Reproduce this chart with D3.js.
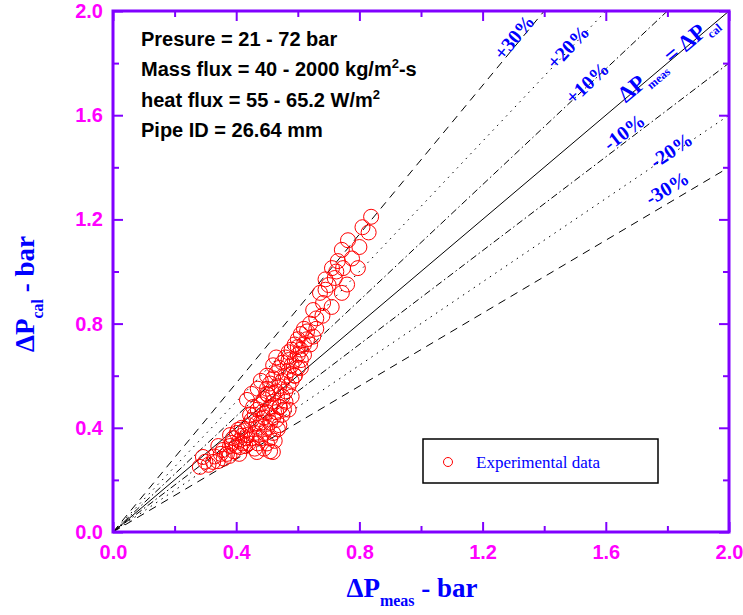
<!DOCTYPE html>
<html>
<head>
<meta charset="utf-8">
<script src="https://cdn.jsdelivr.net/npm/d3@7"></script>
<style>
  body { margin: 0; background: #fff; }
  svg { display: block; }
</style>
</head>
<body>
<div id="chart"></div>
<script>
var expData = [
  [0.282,0.250],[0.292,0.288],[0.300,0.270],[0.310,0.258],[0.325,0.269],[0.330,0.290],
  [0.340,0.272],[0.350,0.300],[0.342,0.330],[0.360,0.282],[0.357,0.315],[0.370,0.300],
  [0.378,0.292],[0.380,0.330],[0.386,0.342],[0.392,0.310],[0.390,0.360],[0.400,0.330],
  [0.402,0.380],[0.410,0.300],[0.420,0.340],[0.418,0.400],[0.430,0.360],[0.380,0.372],
  [0.500,0.530],[0.490,0.510],[0.520,0.500],[0.480,0.490],[0.510,0.480],[0.540,0.480],
  [0.470,0.470],[0.500,0.460],[0.530,0.460],[0.460,0.450],[0.490,0.440],[0.520,0.440],
  [0.450,0.430],[0.480,0.420],[0.510,0.420],[0.440,0.410],[0.470,0.400],[0.500,0.400],
  [0.540,0.410],[0.430,0.390],[0.460,0.380],[0.490,0.380],[0.520,0.380],[0.420,0.370],
  [0.450,0.360],[0.480,0.360],[0.510,0.360],[0.440,0.340],[0.470,0.340],[0.500,0.340],
  [0.460,0.320],[0.490,0.320],[0.510,0.310],[0.430,0.330],[0.410,0.350],[0.530,0.430],
  [0.550,0.450],[0.560,0.500],[0.580,0.520],[0.570,0.470],[0.485,0.461],[0.503,0.526],
  [0.542,0.480],[0.406,0.392],[0.455,0.480],[0.445,0.449],[0.467,0.418],[0.435,0.372],
  [0.412,0.326],[0.467,0.307],[0.519,0.307],[0.555,0.470],[0.535,0.395],[0.525,0.350],
  [0.435,0.507],[0.450,0.530],[0.470,0.550],[0.480,0.580],[0.500,0.600],[0.520,0.640],
  [0.530,0.670],[0.580,0.580],[0.590,0.600],[0.610,0.630],
  [0.620,0.780],[0.610,0.760],[0.630,0.740],[0.600,0.740],[0.620,0.720],[0.590,0.720],
  [0.610,0.700],[0.580,0.700],[0.600,0.680],[0.570,0.690],[0.590,0.660],[0.560,0.670],
  [0.580,0.640],[0.550,0.650],[0.570,0.620],[0.600,0.630],[0.540,0.630],[0.560,0.600],
  [0.590,0.600],[0.530,0.610],[0.550,0.580],[0.520,0.590],[0.540,0.560],[0.570,0.560],
  [0.510,0.570],[0.530,0.540],[0.560,0.540],[0.500,0.550],[0.520,0.530],[0.550,0.520],
  [0.610,0.660],[0.620,0.680],[0.640,0.720],[0.570,0.660],[0.600,0.710],
  [0.838,1.210],[0.810,1.170],[0.830,1.150],[0.763,1.120],[0.743,1.083],[0.800,1.094],
  [0.776,1.050],[0.795,1.013],[0.747,1.013],[0.711,1.013],[0.720,0.975],[0.700,0.948],
  [0.672,0.918],[0.743,0.918],[0.682,0.879],[0.710,0.864],[0.650,0.852],[0.760,0.950],
  [0.730,1.040],[0.690,0.970],[0.660,0.820],[0.680,0.830],[0.640,0.800],[0.660,0.780],
  [0.630,0.770],[0.650,0.750],[0.690,0.930],[0.725,1.000]
];

// deviation lines: calculated = factor * measured
var lineNames   = ['+30%', '+20%', '+10%', 'ref', '-10%', '-20%', '-30%'];
var lineFactors = [1 / 0.7, 1 / 0.8, 1 / 0.9, 1, 0.9, 0.8, 0.7];
var lineDash    = ['8,6', '1.5,5', '7,3,1.5,3', null, '7,3,1.5,3', '1.5,5', '8,6'];
// label anchors in data units
var labelAt     = [[1.302,1.900],[1.477,1.862],[1.539,1.724],[1.799,1.820],[1.659,1.536],[1.812,1.466],[1.799,1.321]];

var majorTicks = [0, 0.4, 0.8, 1.2, 1.6, 2.0];
var minorTicks = [0.2, 0.6, 1.0, 1.4, 1.8];

var infoLines = [
  [['Presure = 21 - 72 bar', 0]],
  [['Mass flux = 40 - 2000 kg/m', 0], ['2', 1], ['-s', 0]],
  [['heat flux = 55 - 65.2 W/m', 0], ['2', 1]],
  [['Pipe ID = 26.64 mm', 0]]
];

var W = 743, H = 615;
var axisColor = '#8000ff';
var sans = '"Liberation Sans", Arial, sans-serif';
var serif = '"Liberation Serif", "Times New Roman", serif';

var svg = d3.select('#chart').append('svg').attr('width', W).attr('height', H);

var x = d3.scaleLinear().domain([0, 2]).range([113, 729]);
var y = d3.scaleLinear().domain([0, 2]).range([532, 11]);

svg.append('clipPath').attr('id', 'plotClip')
  .append('rect').attr('x', x(0)).attr('y', y(2))
  .attr('width', x(2) - x(0)).attr('height', y(0) - y(2));

// reference lines
var lineGen = d3.line().x(function (d) { return x(d[0]); }).y(function (d) { return y(d[1]); });
var lines = svg.append('g').attr('clip-path', 'url(#plotClip)');
lineFactors.forEach(function (f, i) {
  lines.append('path')
    .attr('d', lineGen([[0, 0], [2, 2 * f]]))
    .attr('fill', 'none').attr('stroke', '#000').attr('stroke-width', 1)
    .attr('stroke-dasharray', lineDash[i]);
});

// line labels
var pxPerX = (x(2) - x(0)) / 2, pxPerY = (y(0) - y(2)) / 2;
lineNames.forEach(function (name, i) {
  var ang = -Math.atan(lineFactors[i] * pxPerY / pxPerX) * 180 / Math.PI;
  var px = x(labelAt[i][0]), py = y(labelAt[i][1]);
  var t = svg.append('text')
    .attr('transform', 'translate(' + px + ',' + py + ') rotate(' + ang + ')')
    .attr('text-anchor', 'middle').attr('dy', '0.35em')
    .attr('font-family', serif).attr('font-weight', 'bold')
    .attr('fill', '#0000ff');
  if (name === 'ref') {
    t.attr('font-size', 23);
    t.append('tspan').text('ΔP');
    t.append('tspan').attr('font-size', 12).attr('dy', 6).text('meas');
    t.append('tspan').attr('dy', -6).text(' = ΔP');
    t.append('tspan').attr('font-size', 12).attr('dy', 6).text('cal');
  } else {
    t.attr('font-size', 20).text(name);
  }
});

// data
svg.append('g').selectAll('circle')
  .data(expData)
  .enter().append('circle')
  .attr('cx', function (d) { return x(d[0]); })
  .attr('cy', function (d) { return y(d[1]); })
  .attr('r', 7.5)
  .attr('fill', 'none').attr('stroke', '#ff0000').attr('stroke-width', 1);

// axes, ticks inward on all four sides
function styleAxis(g) {
  g.select('.domain').remove();
  g.selectAll('.tick line').attr('stroke', axisColor).attr('stroke-width', 2);
  g.selectAll('.tick text').attr('fill', '#ff00ff')
    .attr('font-family', sans).attr('font-weight', 'bold').attr('font-size', 20);
}
var fmt = d3.format('.1f');
svg.append('g').attr('transform', 'translate(0,' + y(0) + ')')
  .call(d3.axisBottom(x).tickValues(majorTicks).tickSize(-10).tickPadding(13).tickFormat(fmt)).call(styleAxis);
svg.append('g').attr('transform', 'translate(0,' + y(0) + ')')
  .call(d3.axisBottom(x).tickValues(minorTicks).tickSize(-6).tickFormat('')).call(styleAxis);
svg.append('g').attr('transform', 'translate(' + x(0) + ',0)')
  .call(d3.axisLeft(y).tickValues(majorTicks).tickSize(-10).tickPadding(10).tickFormat(fmt)).call(styleAxis);
svg.append('g').attr('transform', 'translate(' + x(0) + ',0)')
  .call(d3.axisLeft(y).tickValues(minorTicks).tickSize(-6).tickFormat('')).call(styleAxis);
svg.append('g').attr('transform', 'translate(0,' + y(2) + ')')
  .call(d3.axisTop(x).tickValues(majorTicks).tickSize(-10).tickFormat('')).call(styleAxis);
svg.append('g').attr('transform', 'translate(0,' + y(2) + ')')
  .call(d3.axisTop(x).tickValues(minorTicks).tickSize(-6).tickFormat('')).call(styleAxis);
svg.append('g').attr('transform', 'translate(' + x(2) + ',0)')
  .call(d3.axisRight(y).tickValues(majorTicks).tickSize(-10).tickFormat('')).call(styleAxis);
svg.append('g').attr('transform', 'translate(' + x(2) + ',0)')
  .call(d3.axisRight(y).tickValues(minorTicks).tickSize(-6).tickFormat('')).call(styleAxis);

svg.append('rect')
  .attr('x', x(0)).attr('y', y(2)).attr('width', x(2) - x(0)).attr('height', y(0) - y(2))
  .attr('fill', 'none').attr('stroke', axisColor).attr('stroke-width', 3);

// axis titles
var xt = svg.append('text').attr('x', 412).attr('y', 597).attr('text-anchor', 'middle')
  .attr('font-family', serif).attr('font-weight', 'bold').attr('font-size', 27).attr('fill', '#0000ff');
xt.append('tspan').text('ΔP');
xt.append('tspan').attr('font-size', 16).attr('dy', 9).text('meas');
xt.append('tspan').attr('dy', -9).text(' - bar');

var yt = svg.append('text').attr('transform', 'translate(34,294) rotate(-90)').attr('text-anchor', 'middle')
  .attr('font-family', serif).attr('font-weight', 'bold').attr('font-size', 27).attr('fill', '#0000ff');
yt.append('tspan').text('ΔP');
yt.append('tspan').attr('font-size', 16).attr('dy', 9).text('cal');
yt.append('tspan').attr('dy', -9).text(' - bar');

// conditions block
infoLines.forEach(function (parts, i) {
  var t = svg.append('text').attr('x', 141).attr('y', 46 + i * 30.3)
    .attr('font-family', sans).attr('font-weight', 'bold').attr('font-size', 20).attr('fill', '#000');
  parts.forEach(function (p) {
    var s = t.append('tspan').text(p[0]);
    if (p[1]) s.attr('font-size', 13).attr('dy', -8);
    else if (t.selectAll('tspan').size() > 1) s.attr('dy', 8);
  });
});

// legend
var legend = svg.append('g');
legend.append('rect').attr('x', 423).attr('y', 439).attr('width', 235).attr('height', 44)
  .attr('fill', '#fff').attr('stroke', '#000').attr('stroke-width', 1.5);
legend.append('circle').attr('cx', 448).attr('cy', 462).attr('r', 4.5)
  .attr('fill', 'none').attr('stroke', '#ff0000').attr('stroke-width', 1);
legend.append('text').attr('x', 476).attr('y', 468)
  .attr('font-family', serif).attr('font-size', 17).attr('fill', '#0000ff')
  .text('Experimental data');
</script>
</body>
</html>
